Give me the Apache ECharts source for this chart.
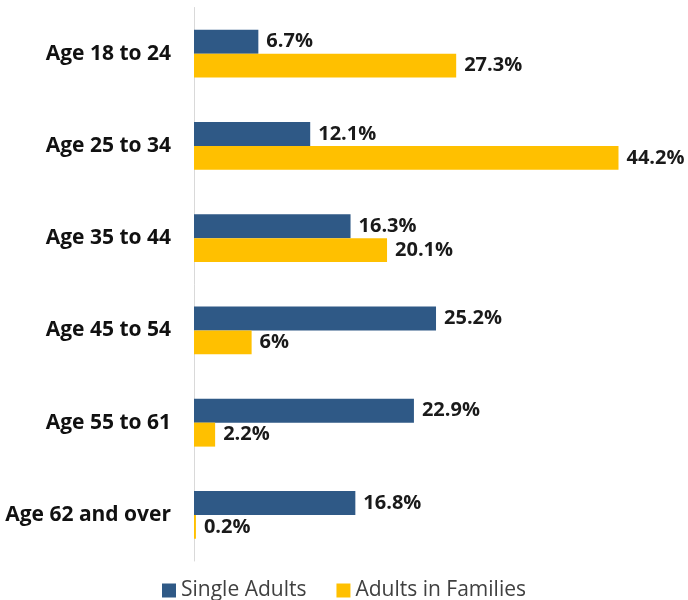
<!DOCTYPE html>
<html>
<head>
<meta charset="utf-8">
<script src="https://cdn.jsdelivr.net/npm/echarts@6/dist/echarts.min.js"></script>
<style>
  html, body { margin: 0; padding: 0; background: #fff; }
  #main { width: 688px; height: 600px; }
</style>
</head>
<body>
<div id="main"></div>
<script>
// 年龄分组
const ageGroups = ['Age 18 to 24', 'Age 25 to 34', 'Age 35 to 44', 'Age 45 to 54', 'Age 55 to 61', 'Age 62 and over'];
const singleAdults = [6.7, 12.1, 16.3, 25.2, 22.9, 16.8];
const adultsInFamilies = [27.3, 44.2, 20.1, 6, 2.2, 0.2];

const colors = ['#2F5986', '#FFC000'];
const font = '"Open Sans", "Liberation Sans", sans-serif';

const myChart = echarts.init(document.getElementById('main'));

const labelStyle = {
  show: true,
  position: 'right',
  distance: 8,
  formatter: '{c}%',
  fontFamily: font,
  fontWeight: 'bold',
  fontSize: 20,
  color: '#1a1a1a'
};

const option = {
  color: colors,
  animation: false,
  grid: { left: 194, right: 13.8, top: 7.5, bottom: 39 },
  legend: {
    top: 575,
    left: 'center',
    itemWidth: 14,
    itemHeight: 14,
    itemGap: 30,
    icon: 'rect',
    textStyle: { fontFamily: font, fontSize: 21, color: '#404040' },
    data: ['Single Adults', 'Adults in Families']
  },
  xAxis: {
    type: 'value',
    min: 0,
    max: 50,
    show: false
  },
  yAxis: {
    type: 'category',
    inverse: true,
    data: ageGroups,
    axisLine: { show: true, lineStyle: { color: '#d9d9d9', width: 1 } },
    axisTick: { show: false },
    axisLabel: {
      margin: 23,
      fontFamily: font,
      fontWeight: 'bold',
      fontSize: 21,
      color: '#111'
    }
  },
  series: [
    {
      name: 'Single Adults',
      type: 'bar',
      data: singleAdults,
      barGap: '0%',
      barCategoryGap: '48%',
      label: labelStyle
    },
    {
      name: 'Adults in Families',
      type: 'bar',
      data: adultsInFamilies,
      label: labelStyle
    }
  ]
};

myChart.setOption(option);
</script>
</body>
</html>
